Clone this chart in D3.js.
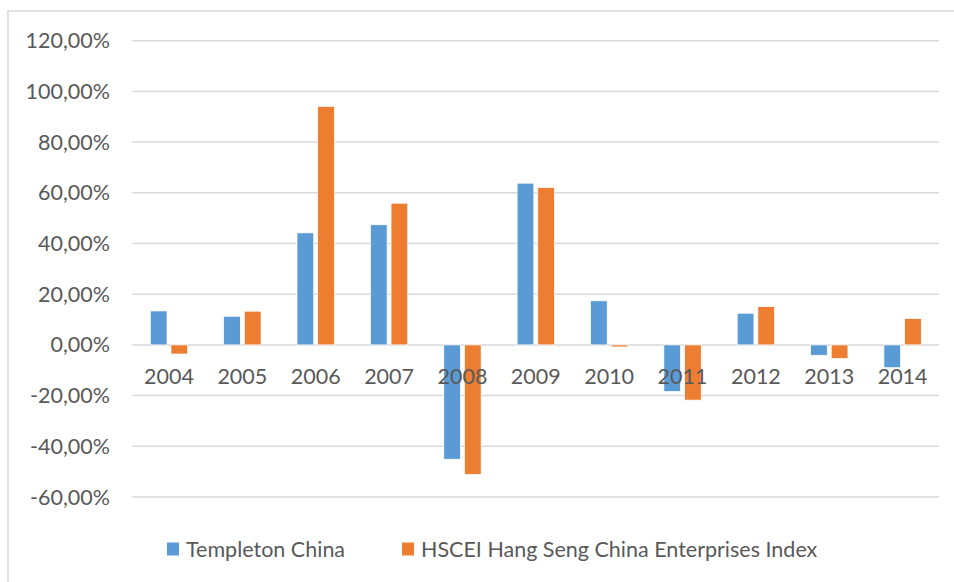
<!DOCTYPE html>
<html>
<head>
<meta charset="utf-8">
<script src="https://cdn.jsdelivr.net/npm/d3@7"></script>
<style>
  body { margin: 0; background: #fff; }
  svg text { font-family: Lato, "Open Sans", sans-serif; fill: #595959; }
</style>
</head>
<body>
<svg id="chart"></svg>
<script>
(function(){
    "use strict";

    var years = ["2004", "2005", "2006", "2007", "2008", "2009", "2010", "2011", "2012", "2013", "2014"];
    var seriesNames = ["Templeton China", "HSCEI Hang Seng China Enterprises Index"];
    var templeton = [13.4, 11.3, 44.2, 47.4, -45.1, 63.8, 17.4, -18.4, 12.5, -4.1, -9.0];
    var hscei = [-3.6, 13.3, 94.1, 55.9, -51.1, 62.1, -0.8, -21.8, 15.1, -5.4, 10.4];
    var yTicks = [-60, -40, -20, 0, 20, 40, 60, 80, 100, 120];
    var colors = ["#5B9BD5", "#ED7D31"];

    var width = 954,
        height = 582,
        left = 132.3,
        right = 939.3,
        top = 40.7,
        bottom = 497,
        fontSize = "21.5px";

    var svg = d3.select("svg#chart")
        .attr("width", width)
        .attr("height", height);

    // chart frame (only top and left edges are visible)
    svg.append("path")
        .attr("d", "M8,582 V11 H954")
        .attr("fill", "none")
        .attr("stroke", "#D9D9D9")
        .attr("stroke-width", 1.5);

    var y = d3.scaleLinear().domain([-60, 120]).range([bottom, top]);
    var x0 = d3.scaleBand().domain(years).range([left, right]).padding(0);
    var x1 = d3.scaleBand().domain(seriesNames)
        .range([x0.bandwidth() / 2 - 18.7, x0.bandwidth() / 2 + 18.7])
        .paddingInner(0.19);

    // gridlines
    svg.append("g").selectAll("line")
        .data(yTicks)
        .join("line")
        .attr("x1", left)
        .attr("x2", right)
        .attr("y1", function(d) { return y(d); })
        .attr("y2", function(d) { return y(d); })
        .attr("stroke", "#D9D9D9")
        .attr("stroke-width", 1.5);

    // y labels
    var fmt = function(d) { return d.toFixed(2).replace(".", ",") + "%"; };
    svg.append("g").selectAll("text")
        .data(yTicks)
        .join("text")
        .attr("x", 110)
        .attr("y", function(d) { return y(d); })
        .attr("dy", "0.35em")
        .attr("text-anchor", "end")
        .style("font-size", fontSize)
        .text(fmt);

    // bars
    var rows = years.map(function(yr, i) {
        return { year: yr, values: [templeton[i], hscei[i]] };
    });

    var groups = svg.append("g").selectAll("g")
        .data(rows)
        .join("g")
        .attr("transform", function(d) { return "translate(" + x0(d.year) + ",0)"; });

    groups.selectAll("rect")
        .data(function(d) {
            return d.values.map(function(v, j) { return { name: seriesNames[j], value: v, idx: j }; });
        })
        .join("rect")
        .attr("x", function(d) { return x1(d.name); })
        .attr("width", x1.bandwidth())
        .attr("y", function(d) { return y(Math.max(0, d.value)); })
        .attr("height", function(d) { return Math.abs(y(d.value) - y(0)); })
        .attr("fill", function(d) { return colors[d.idx]; })
        .attr("stroke", "#fff")
        .attr("stroke-width", 0.75);

    // x labels
    svg.append("g").selectAll("text")
        .data(years)
        .join("text")
        .attr("x", function(d) { return x0(d) + x0.bandwidth() / 2; })
        .attr("y", 376.5)
        .attr("dy", "0.35em")
        .attr("text-anchor", "middle")
        .style("font-size", fontSize)
        .text(function(d) { return d; });

    // legend
    var legendX = [167, 402];
    var legend = svg.append("g").selectAll("g")
        .data(seriesNames)
        .join("g")
        .attr("transform", function(d, i) { return "translate(" + legendX[i] + ",549)"; });

    legend.append("rect")
        .attr("x", 0)
        .attr("y", -6.5)
        .attr("width", 12)
        .attr("height", 13)
        .attr("fill", function(d, i) { return colors[i]; });

    legend.append("text")
        .attr("x", 19)
        .attr("y", 0)
        .attr("dy", "0.35em")
        .style("font-size", fontSize)
        .text(function(d) { return d; });
})();
</script>
</body>
</html>
